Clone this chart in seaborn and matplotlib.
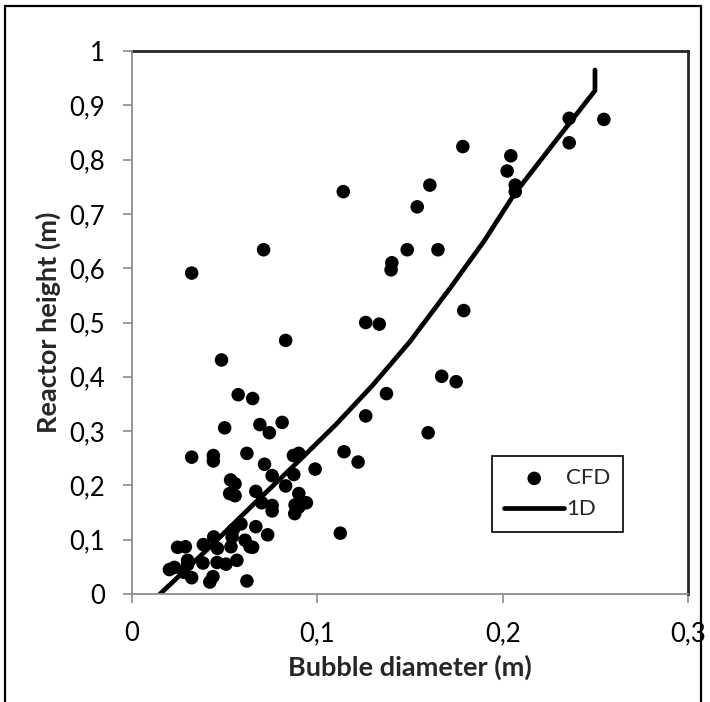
import matplotlib
matplotlib.use("Agg")
import matplotlib.pyplot as plt
from matplotlib.lines import Line2D
import seaborn as sns
import pandas as pd

# CFD scatter data (bubble diameter in m, reactor height in m)
cfd_diameter = [0.0322, 0.0710, 0.1140, 0.1785, 0.2044, 0.2024, 0.2068, 0.2068, 0.1607, 0.1539,
                0.1485, 0.1651, 0.1402, 0.1398, 0.2359, 0.2546, 0.2359, 0.1261, 0.1334, 0.1790,
                0.0829, 0.0483, 0.1671, 0.1749, 0.1373, 0.0573, 0.0651, 0.1261, 0.0810, 0.0690,
                0.0741, 0.0500, 0.1598, 0.0322, 0.0439, 0.0439, 0.0620, 0.1144, 0.1220, 0.0715,
                0.0871, 0.0900, 0.0988, 0.0873, 0.0756, 0.0532, 0.0556, 0.0829, 0.0668, 0.0527,
                0.0556, 0.0900, 0.0941, 0.0900, 0.0756, 0.0756, 0.0878, 0.0700, 0.1124, 0.0732,
                0.0668, 0.0588, 0.0546, 0.0637, 0.0534, 0.0441, 0.0385, 0.0461, 0.0246, 0.0288,
                0.0300, 0.0383, 0.0459, 0.0507, 0.0566, 0.0610, 0.0651, 0.0202, 0.0229, 0.0280,
                0.0322, 0.0420, 0.0437, 0.0620, 0.0300, 0.0540, 0.0880]
cfd_height = [0.591, 0.634, 0.741, 0.824, 0.807, 0.779, 0.753, 0.741, 0.753, 0.713,
              0.634, 0.634, 0.610, 0.597, 0.876, 0.874, 0.831, 0.500, 0.497, 0.522,
              0.467, 0.431, 0.401, 0.391, 0.369, 0.367, 0.360, 0.328, 0.316, 0.312,
              0.297, 0.306, 0.297, 0.252, 0.255, 0.245, 0.259, 0.262, 0.243, 0.239,
              0.255, 0.259, 0.230, 0.220, 0.218, 0.210, 0.203, 0.199, 0.189, 0.185,
              0.181, 0.185, 0.168, 0.160, 0.163, 0.153, 0.148, 0.168, 0.112, 0.109,
              0.124, 0.129, 0.118, 0.087, 0.087, 0.105, 0.091, 0.084, 0.086, 0.087,
              0.062, 0.057, 0.058, 0.055, 0.062, 0.099, 0.086, 0.045, 0.049, 0.040,
              0.030, 0.022, 0.032, 0.024, 0.054, 0.105, 0.164]

# 1D model curve
oned_diameter = [0.0151, 0.0403, 0.0640, 0.0906, 0.1100, 0.1300, 0.1500, 0.1720, 0.1900, 0.2060, 0.2280, 0.2498, 0.2498]
oned_height = [0.000, 0.081, 0.160, 0.247, 0.312, 0.385, 0.465, 0.565, 0.650, 0.735, 0.832, 0.927, 0.965]

x_ticks = [0, 0.1, 0.2, 0.3]
x_tick_labels = ["0", "0,1", "0,2", "0,3"]
y_ticks = [0, 0.1, 0.2, 0.3, 0.4, 0.5, 0.6, 0.7, 0.8, 0.9, 1.0]
y_tick_labels = ["0", "0,1", "0,2", "0,3", "0,4", "0,5", "0,6", "0,7", "0,8", "0,9", "1"]

cfd_df = pd.DataFrame({"d": cfd_diameter, "h": cfd_height})
oned_df = pd.DataFrame({"d": oned_diameter, "h": oned_height})

sns.set_theme(style="white")
plt.rcParams['font.family'] = ['Lato', 'DejaVu Sans']

fig = plt.figure(figsize=(7.1, 7.02), dpi=100)
ax = fig.add_axes([132 / 710, 108 / 702, 556 / 710, 543 / 702])

sns.scatterplot(data=cfd_df, x="d", y="h", color="black", s=95, edgecolor="none",
                linewidth=0, label="CFD", ax=ax, zorder=3)
sns.lineplot(data=oned_df, x="d", y="h", sort=False, estimator=None, color="black",
             linewidth=3.4, label="1D", ax=ax, zorder=2)

ax.set_xlim(0, 0.3)
ax.set_ylim(0, 1)
ax.set_xticks(x_ticks)
ax.set_xticklabels(x_tick_labels)
ax.set_yticks(y_ticks)
ax.set_yticklabels(y_tick_labels)

axis_gray = "#8c8c8c"
for side in ["left", "bottom"]:
    ax.spines[side].set_color(axis_gray)
    ax.spines[side].set_linewidth(1.3)
for side in ["top", "right"]:
    ax.spines[side].set_color("#262626")
    ax.spines[side].set_linewidth(2.0)
    ax.spines[side].set_zorder(1)

ax.tick_params(axis="both", which="major", bottom=True, left=True, direction="out",
               length=6.5, width=1.2, color=axis_gray, pad=13, labelsize=18.5,
               labelcolor="black")

ax.set_xlabel("Bubble diameter (m)", fontsize=19.5, fontweight="bold", labelpad=6)
ax.set_ylabel("Reactor height (m)", fontsize=19.5, fontweight="bold", labelpad=6)

leg = ax.legend(loc="upper left", bbox_to_anchor=((492 - 132) / 556, (594 - 456) / 543),
                borderaxespad=0, frameon=True, fancybox=False, fontsize=16,
                handlelength=2.7, handletextpad=0.1, borderpad=0.55, labelspacing=0.5)
leg.get_frame().set_edgecolor("black")
leg.get_frame().set_linewidth(1.2)
leg.get_frame().set_facecolor("white")
leg.get_frame().set_alpha(1)

# outer chart border (left, top, right)
fig.add_artist(Line2D([0.007, 0.007], [0.0, 0.9915], transform=fig.transFigure,
                      color="black", linewidth=1.6))
fig.add_artist(Line2D([0.007, 0.9875], [0.9915, 0.9915], transform=fig.transFigure,
                      color="black", linewidth=1.6))
fig.add_artist(Line2D([0.9875, 0.9875], [0.0, 0.9915], transform=fig.transFigure,
                      color="black", linewidth=1.6))

fig.savefig("out.png", dpi=100)
